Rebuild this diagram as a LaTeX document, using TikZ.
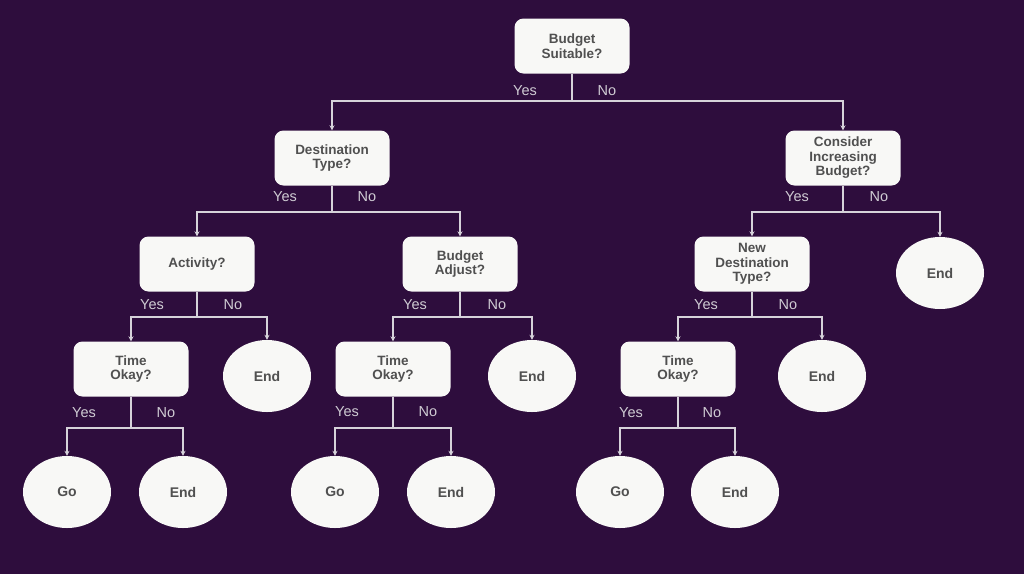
\documentclass[tikz,border=0pt]{standalone}
\usepackage{fontspec}
\setmainfont{Liberation Sans}
\usetikzlibrary{arrows.meta,shapes.geometric}
\definecolor{bg}{HTML}{2E0D3D}
\definecolor{boxfill}{HTML}{F8F8F6}
\definecolor{boxtext}{HTML}{505050}
\definecolor{linec}{HTML}{D6D2DA}
\definecolor{labc}{HTML}{CFCBD3}
\tikzset{
  qbox/.style={draw=none, fill=boxfill, rounded corners=9pt, minimum width=115pt, minimum height=55pt,
    align=center, text=boxtext, font=\bfseries\fontsize{13.5}{14.5}\selectfont, inner sep=2pt},
  endnode/.style={ellipse, fill=boxfill, minimum width=88pt, minimum height=72pt, inner sep=0pt,
    text=boxtext, font=\bfseries\fontsize{14}{16}\selectfont},
  lab/.style={text=labc, font=\fontsize{14.5}{16}\selectfont, inner sep=0pt},
  conn/.style={draw=linec, line width=1.2pt, -{Stealth[length=5pt,width=5pt]}},
}
\begin{document}
\begin{tikzpicture}[x=1pt,y=-1pt]
\fill[bg] (0,0) rectangle (1024,574);
\useasboundingbox (0,0) rectangle (1024,574);

% nodes
\node[qbox] (root) at (572,46) {Budget\\Suitable?};
\node[qbox] (dest) at (332,158) {Destination\\Type?};
\node[qbox] (cons) at (843,158) {Consider\\Increasing\\Budget?};
\node[qbox] (act) at (197,264) {Activity?};
\node[qbox] (badj) at (460,264) {Budget\\Adjust?};
\node[qbox] (ndest) at (752,264) {New\\Destination\\Type?};
\node[endnode] (end1) at (940,273) {End};
\node[qbox] (t1) at (131,369) {Time\\Okay?};
\node[endnode] (end2) at (267,376) {End};
\node[qbox] (t2) at (393,369) {Time\\Okay?};
\node[endnode] (end3) at (532,376) {End};
\node[qbox] (t3) at (678,369) {Time\\Okay?};
\node[endnode] (end4) at (822,376) {End};
\node[endnode] (go1) at (67,492) {Go};
\node[endnode] (end5) at (183,492) {End};
\node[endnode] (go2) at (335,492) {Go};
\node[endnode] (end6) at (451,492) {End};
\node[endnode] (go3) at (620,492) {Go};
\node[endnode] (end7) at (735,492) {End};

% junction coordinates
\coordinate (jroot) at (572,101);
\coordinate (jdest) at (332,212);
\coordinate (jcons) at (843,212);
\coordinate (jact) at (197,317);
\coordinate (jbadj) at (460,317);
\coordinate (jndest) at (752,317);
\coordinate (jt1) at (131,428);
\coordinate (jt2) at (393,428);
\coordinate (jt3) at (678,428);

% connectors
\foreach \p/\j/\a/\b in {root/jroot/dest/cons, dest/jdest/act/badj, cons/jcons/ndest/end1,
  act/jact/t1/end2, badj/jbadj/t2/end3, ndest/jndest/t3/end4,
  t1/jt1/go1/end5, t2/jt2/go2/end6, t3/jt3/go3/end7}{
  \draw[draw=linec, line width=1.2pt] (\p.south) -- (\j);
  \draw[conn] (\j) -| (\a.north);
  \draw[conn] (\j) -| (\b.north);
}

% labels
\node[lab] (y1) at (525,91) {Yes};  \node[lab] (n1) at (607,91) {No};
\node[lab] (y2) at (285,197) {Yes}; \node[lab] (n2) at (367,197) {No};
\node[lab] (y3) at (797,197) {Yes}; \node[lab] (n3) at (879,197) {No};
\node[lab] (y4) at (152,305) {Yes}; \node[lab] (n4) at (233,305) {No};
\node[lab] (y5) at (415,305) {Yes}; \node[lab] (n5) at (497,305) {No};
\node[lab] (y6) at (706,305) {Yes}; \node[lab] (n6) at (788,305) {No};
\node[lab] (y7) at (84,413) {Yes};  \node[lab] (n7) at (166,413) {No};
\node[lab] (y8) at (347,412) {Yes}; \node[lab] (n8) at (428,412) {No};
\node[lab] (y9) at (631,413) {Yes}; \node[lab] (n9) at (712,413) {No};
\end{tikzpicture}
\end{document}
